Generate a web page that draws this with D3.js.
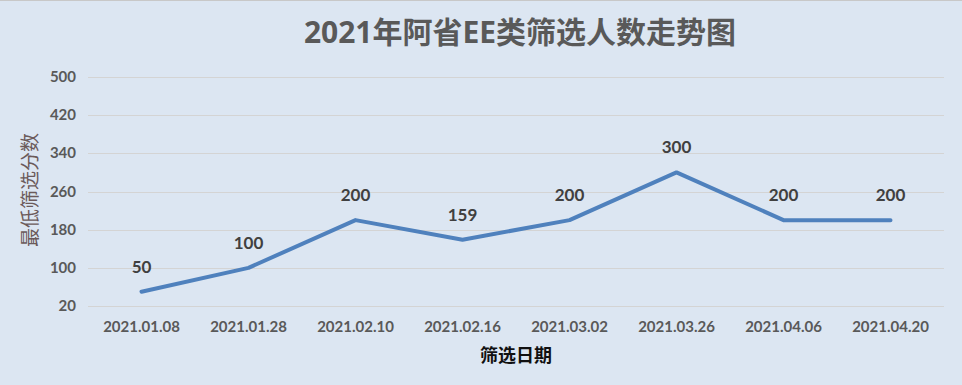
<!DOCTYPE html>
<html>
<head>
<meta charset="utf-8">
<script src="https://cdn.jsdelivr.net/npm/d3@7"></script>
<style>
  body { margin: 0; background: #dce6f2; }
  svg { display: block; }
</style>
</head>
<body>
<script>
// chart data
var dates = ['2021.01.08', '2021.01.28', '2021.02.10', '2021.02.16', '2021.03.02', '2021.03.26', '2021.04.06', '2021.04.20'];
var scores = [50, 100, 200, 159, 200, 300, 200, 200];
var y_ticks = [20, 100, 180, 260, 340, 420, 500];

var width = 962, height = 385;
var left = 88, right = 944, top_y = 77, bottom = 306;

var svg = d3.select('body').append('svg').attr('width', width).attr('height', height);
svg.append('rect').attr('width', width).attr('height', height).attr('fill', '#dce6f2');
svg.append('line').attr('x1', 0).attr('x2', width).attr('y1', 0.5).attr('y2', 0.5)
  .attr('stroke', '#c8c8c8').attr('stroke-width', 1);

var x_scale = d3.scaleBand().domain(dates).range([left, right]);
var y_scale = d3.scaleLinear().domain([20, 500]).range([bottom, top_y]);

// gridlines
svg.append('g').selectAll('line').data(y_ticks).enter().append('line')
  .attr('x1', left).attr('x2', right)
  .attr('y1', d => Math.round(y_scale(d)) + 0.5).attr('y2', d => Math.round(y_scale(d)) + 0.5)
  .attr('stroke', '#d4d4d4').attr('stroke-width', 1);

// y tick labels
svg.append('g').selectAll('text').data(y_ticks).enter().append('text')
  .attr('x', 76).attr('y', d => y_scale(d) + 5)
  .attr('text-anchor', 'end')
  .style('font', 'bold 15px Lato, "Open Sans", sans-serif').style('fill', '#595959')
  .text(d => d);

// x tick labels
svg.append('g').selectAll('text').data(dates).enter().append('text')
  .attr('x', d => x_scale(d) + x_scale.bandwidth() / 2).attr('y', 332)
  .attr('text-anchor', 'middle')
  .style('font', 'bold 15px Lato, "Open Sans", sans-serif').style('fill', '#595959')
  .text(d => d);

// line
var line_scale = d3.line()
  .x((d, i) => x_scale(dates[i]) + x_scale.bandwidth() / 2)
  .y(d => y_scale(d));
svg.append('path').datum(scores)
  .attr('d', line_scale)
  .attr('fill', 'none').attr('stroke', '#4f81bd').attr('stroke-width', 4)
  .attr('stroke-linecap', 'round').attr('stroke-linejoin', 'round');

// data labels
svg.append('g').selectAll('text').data(scores).enter().append('text')
  .attr('x', (d, i) => x_scale(dates[i]) + x_scale.bandwidth() / 2)
  .attr('y', d => y_scale(d) - 19)
  .attr('text-anchor', 'middle')
  .style('font', 'bold 17px Lato, "Open Sans", sans-serif').style('fill', '#404040')
  .text(d => d);

// title
svg.append('text').attr('x', 520).attr('y', 43).attr('text-anchor', 'middle')
  .style('font', 'bold 30px "Open Sans", "Noto Sans CJK SC", sans-serif').style('fill', '#595959')
  .text('2021年阿省EE类筛选人数走势图');

// axis titles
svg.append('text').attr('transform', 'translate(37,190) rotate(-90)').attr('text-anchor', 'middle')
  .style('font', '19px "Noto Sans CJK SC", sans-serif').style('fill', '#6b5a5a')
  .text('最低筛选分数');
svg.append('text').attr('x', 516).attr('y', 362).attr('text-anchor', 'middle')
  .style('font', 'bold 18px "Noto Sans CJK SC", sans-serif').style('fill', '#111111')
  .text('筛选日期');
</script>
</body>
</html>
